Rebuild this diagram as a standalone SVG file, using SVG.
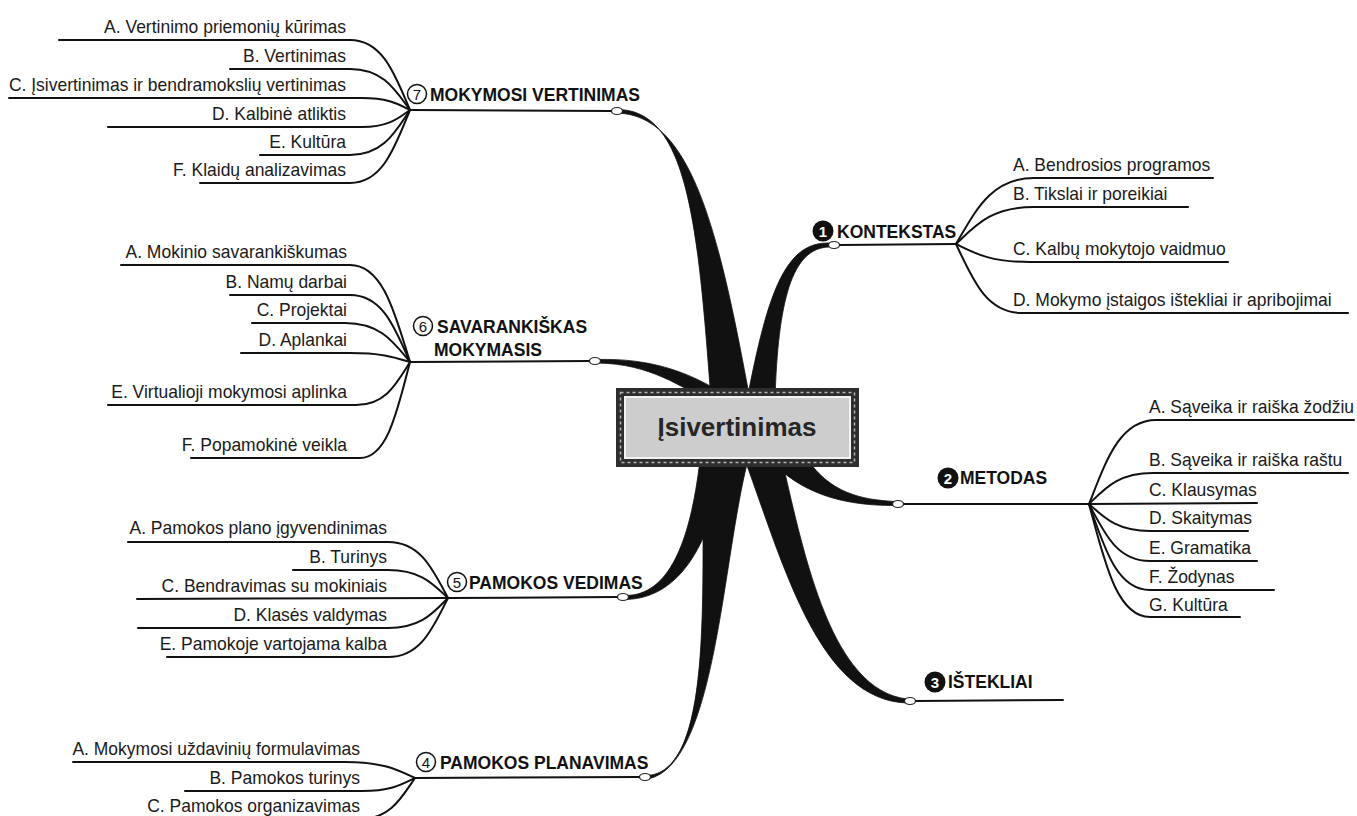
<svg xmlns="http://www.w3.org/2000/svg" width="1357" height="816" viewBox="0 0 1357 816">
<style>
.sub{font-family:"Liberation Sans",Arial,sans-serif;font-size:18.6px;fill:#1a1a1a}
.end{text-anchor:end}
.hd{font-family:"Liberation Sans",Arial,sans-serif;font-size:17.5px;font-weight:bold;fill:#111}
.num{font-family:"Liberation Sans",Arial,sans-serif;font-size:15px;text-anchor:middle}
.ln{fill:none;stroke:#111;stroke-width:2;stroke-linecap:round}
.thick{fill:#111;stroke:#111;stroke-width:0.8}
.oval{fill:#fff;stroke:#222;stroke-width:1.2}
.co{fill:#fff;stroke:#111;stroke-width:1.5}
.cf{fill:#111}
</style>
<rect width="1357" height="816" fill="#fff"/>
<g id="connectors">
  <path class="thick" d="M616,109.5 C688,108 698,225 711,400 L750,400 C718,225 690,114 616,113 Z"/>
  <path class="thick" d="M829,243 C786,242 768,290 747,400 L775,400 C778,300 792,248 829,247 Z"/>
  <path class="thick" d="M598,359.5 C650,358 690,372 725,395 L715,405 C680,386 650,364 598,363 Z"/>
  <path class="thick" d="M626,595.5 C668,595 690,545 700,460 L725,460 C712,540 682,598 626,599.5 Z"/>
  <path class="thick" d="M648,775.5 C712,770 702,600 703,460 L748,460 C722,560 716,765 648,779 Z"/>
  <path class="thick" d="M745,460 C785,570 820,700 907,703 L907,699 C832,690 805,560 782,460 Z"/>
  <path class="thick" d="M808,460 C830,492 860,500 896,501.5 L896,505.5 C840,506 800,492 770,460 Z"/>
  <path class="ln" d="M410,110 L612,111"/>
  <path class="ln" d="M410,362 L590,361"/>
  <path class="ln" d="M448,598 L618,597"/>
  <path class="ln" d="M415,778 L640,777"/>
  <path class="ln" d="M839,245 L956,244"/>
  <path class="ln" d="M903,504 L1089,504"/>
  <path class="ln" d="M915,701 L1063,700"/>
  <path class="ln" d="M59,40 H350 C383,40 395,75 410,110"/>
  <path class="ln" d="M230,69 H350 C383,69 395,89.5 410,110"/>
  <path class="ln" d="M9,98 H362 C388.4,98 398,104 410,110"/>
  <path class="ln" d="M108,127 H362 C388.4,127 398,118.5 410,110"/>
  <path class="ln" d="M260,155 H350 C383,155 395,132.5 410,110"/>
  <path class="ln" d="M200,183 H350 C383,183 395,146.5 410,110"/>
  <path class="ln" d="M121,265 H350 C383,265 395,313.5 410,362"/>
  <path class="ln" d="M230,295 H350 C383,295 395,328.5 410,362"/>
  <path class="ln" d="M252,323 H345 C380.75,323 393.75,342.5 410,362"/>
  <path class="ln" d="M241,353 H350 C383,353 395,357.5 410,362"/>
  <path class="ln" d="M108,405 H356 C385.7,405 396.5,383.5 410,362"/>
  <path class="ln" d="M191,458 H360 C387.5,458 397.5,410 410,362"/>
  <path class="ln" d="M128,542 H388 C421,542 433,570 448,598"/>
  <path class="ln" d="M293,570 H388 C421,570 433,584 448,598"/>
  <path class="ln" d="M137,599 L448,598"/>
  <path class="ln" d="M138,628 H388 C421,628 433,613 448,598"/>
  <path class="ln" d="M167,657 H388 C421,657 433,627.5 448,598"/>
  <path class="ln" d="M73,762 H345 C383.5,762 397.5,770 415,778"/>
  <path class="ln" d="M185,791 H362 C391,791 401.75,784.5 415,778"/>
  <path class="ln" d="M150,819 H360 C390,819 401,798.5 415,778"/>
  <path class="ln" d="M956,244 C975.5,211 991.1,178 1034,178 H1213"/>
  <path class="ln" d="M956,244 C975.5,225.5 991.1,207 1034,207 H1188"/>
  <path class="ln" d="M956,244 C974.5,253 989.3,262 1030,262 H1228"/>
  <path class="ln" d="M956,244 C972.5,278.5 985.7,313 1022,313 H1348"/>
  <path class="ln" d="M1089,504 C1105.75,462 1119.15,420 1156,420 H1354"/>
  <path class="ln" d="M1089,504 C1105,488.5 1117.8,473 1153,473 H1348"/>
  <path class="ln" d="M1089,504 L1257,503"/>
  <path class="ln" d="M1089,504 C1104.25,517.5 1116.45,531 1150,531 H1248"/>
  <path class="ln" d="M1089,504 C1104.25,532.5 1116.45,561 1150,561 H1257"/>
  <path class="ln" d="M1089,504 C1104.25,547 1116.45,590 1150,590 H1274"/>
  <path class="ln" d="M1089,504 C1104.25,560.5 1116.45,617 1150,617 H1240"/>
  <ellipse class="oval" cx="617" cy="111" rx="5.5" ry="3.5"/>
  <ellipse class="oval" cx="595" cy="361" rx="5.5" ry="3.5"/>
  <ellipse class="oval" cx="623" cy="597" rx="5.5" ry="3.5"/>
  <ellipse class="oval" cx="645" cy="777" rx="5.5" ry="3.5"/>
  <ellipse class="oval" cx="834" cy="245" rx="5.5" ry="3.5"/>
  <ellipse class="oval" cx="898" cy="504" rx="5.5" ry="3.5"/>
  <ellipse class="oval" cx="910" cy="701" rx="5.5" ry="3.5"/>
</g>
<g id="center">
  <rect x="616" y="388" width="243" height="79" fill="#2e2e2e"/>
  <rect x="620.5" y="392.5" width="234" height="70" fill="none" stroke="#b5b5b5" stroke-width="1.5" stroke-dasharray="3 3"/>
  <rect x="625" y="397" width="225" height="61" fill="#cdcdcd" stroke="#f2f2f2" stroke-width="2"/>
  <text x="737" y="436" text-anchor="middle" font-family="Liberation Sans, Arial, sans-serif" font-size="26" font-weight="bold" fill="#262626">Įsivertinimas</text>
</g>
<g id="n7">
  <circle class="co" cx="417" cy="94" r="9.5"/><text class="num" x="417" y="99.5" fill="#111">7</text>
  <text class="hd" x="430" y="101">MOKYMOSI VERTINIMAS</text>
  <g transform="translate(346,0) scale(0.94,1) translate(-346,0)">
  <text class="sub end" x="346" y="33">A. Vertinimo priemonių kūrimas</text>
  <text class="sub end" x="346" y="62">B. Vertinimas</text>
  <text class="sub end" x="346" y="91">C. Įsivertinimas ir bendramokslių vertinimas</text>
  <text class="sub end" x="346" y="120">D. Kalbinė atliktis</text>
  <text class="sub end" x="346" y="148">E. Kultūra</text>
  <text class="sub end" x="346" y="176">F. Klaidų analizavimas</text>
  </g>
</g>
<g id="n6">
  <circle class="co" cx="423" cy="326" r="9.5"/><text class="num" x="423" y="331.5" fill="#111">6</text>
  <text class="hd" x="437" y="333">SAVARANKIŠKAS</text>
  <text class="hd" x="434" y="356">MOKYMASIS</text>
  <g transform="translate(347,0) scale(0.94,1) translate(-347,0)">
  <text class="sub end" x="347" y="258">A. Mokinio savarankiškumas</text>
  <text class="sub end" x="347" y="288">B. Namų darbai</text>
  <text class="sub end" x="347" y="316">C. Projektai</text>
  <text class="sub end" x="347" y="346">D. Aplankai</text>
  <text class="sub end" x="347" y="398">E. Virtualioji mokymosi aplinka</text>
  <text class="sub end" x="347" y="451">F. Popamokinė veikla</text>
  </g>
</g>
<g id="n5">
  <circle class="co" cx="457" cy="582" r="9.5"/><text class="num" x="457" y="587.5" fill="#111">5</text>
  <text class="hd" x="469" y="589">PAMOKOS VEDIMAS</text>
  <g transform="translate(387,0) scale(0.94,1) translate(-387,0)">
  <text class="sub end" x="387" y="534">A. Pamokos plano įgyvendinimas</text>
  <text class="sub end" x="387" y="563">B. Turinys</text>
  <text class="sub end" x="387" y="592">C. Bendravimas su mokiniais</text>
  <text class="sub end" x="387" y="621">D. Klasės valdymas</text>
  <text class="sub end" x="387" y="650">E. Pamokoje vartojama kalba</text>
  </g>
</g>
<g id="n4">
  <circle class="co" cx="426" cy="762" r="9.5"/><text class="num" x="426" y="767.5" fill="#111">4</text>
  <text class="hd" x="440" y="769">PAMOKOS PLANAVIMAS</text>
  <g transform="translate(360,0) scale(0.94,1) translate(-360,0)">
  <text class="sub end" x="360" y="755">A. Mokymosi uždavinių formulavimas</text>
  <text class="sub end" x="360" y="784">B. Pamokos turinys</text>
  <text class="sub end" x="360" y="812">C. Pamokos organizavimas</text>
  </g>
</g>
<g id="n1">
  <circle class="cf" cx="823" cy="231" r="10.5"/><text class="num" x="823" y="236.5" fill="#fff" font-weight="bold">1</text>
  <text class="hd" x="837" y="238">KONTEKSTAS</text>
  <g transform="translate(1013,0) scale(0.94,1) translate(-1013,0)">
  <text class="sub" x="1013" y="171">A. Bendrosios programos</text>
  <text class="sub" x="1013" y="200">B. Tikslai ir poreikiai</text>
  <text class="sub" x="1013" y="255">C. Kalbų mokytojo vaidmuo</text>
  <text class="sub" x="1013" y="306">D. Mokymo įstaigos ištekliai ir apribojimai</text>
  </g>
</g>
<g id="n2">
  <circle class="cf" cx="948" cy="478" r="10.5"/><text class="num" x="948" y="483.5" fill="#fff" font-weight="bold">2</text>
  <text class="hd" x="960" y="484">METODAS</text>
  <g transform="translate(1149,0) scale(0.94,1) translate(-1149,0)">
  <text class="sub" x="1149" y="413">A. Sąveika ir raiška žodžiu</text>
  <text class="sub" x="1149" y="466">B. Sąveika ir raiška raštu</text>
  <text class="sub" x="1149" y="496">C. Klausymas</text>
  <text class="sub" x="1149" y="524">D. Skaitymas</text>
  <text class="sub" x="1149" y="554">E. Gramatika</text>
  <text class="sub" x="1149" y="583">F. Žodynas</text>
  <text class="sub" x="1149" y="611">G. Kultūra</text>
  </g>
</g>
<g id="n3">
  <circle class="cf" cx="935" cy="682" r="10.5"/><text class="num" x="935" y="687.5" fill="#fff" font-weight="bold">3</text>
  <text class="hd" x="948" y="688">IŠTEKLIAI</text>
</g>
</svg>
